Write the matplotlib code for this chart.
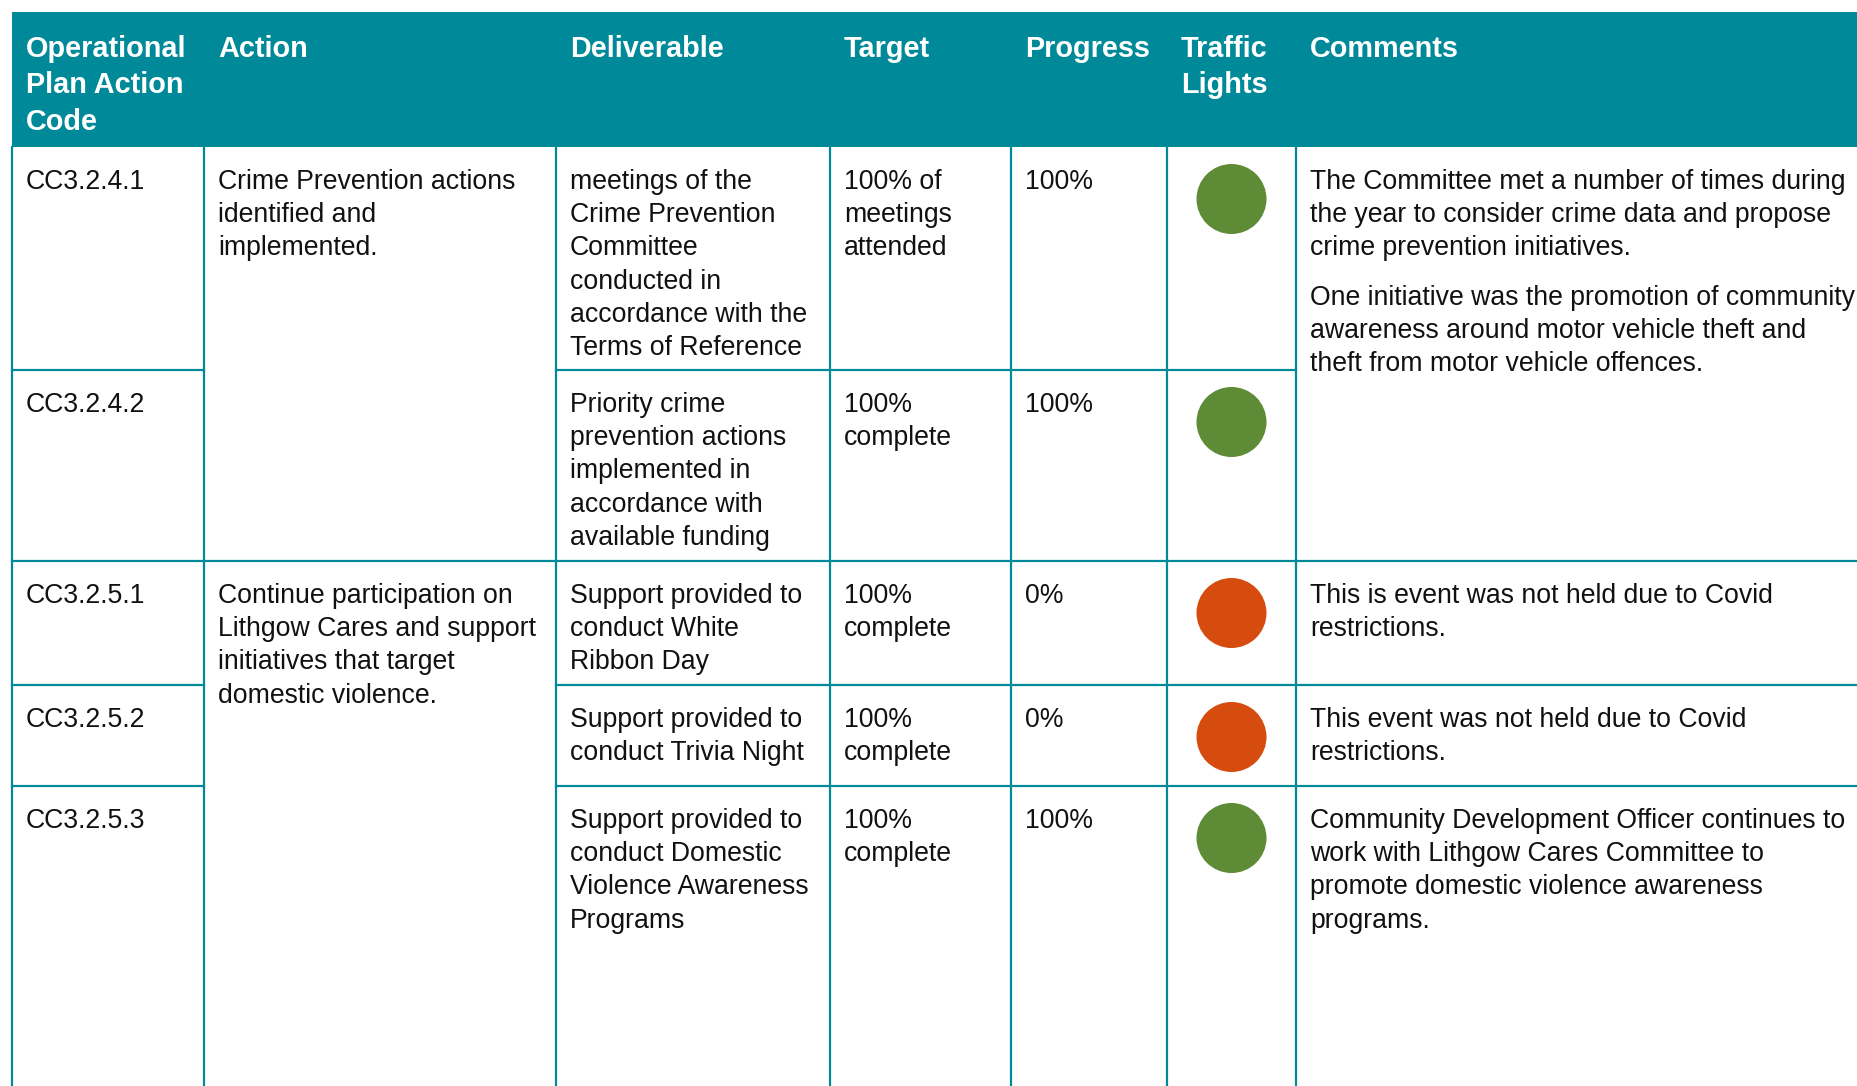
import matplotlib.pyplot as plt
from matplotlib.patches import Rectangle, Circle

plt.rcParams['font.family'] = ['Liberation Sans', 'DejaVu Sans']

# 表格内容
headers = ["Operational\nPlan Action\nCode", "Action", "Deliverable", "Target",
           "Progress", "Traffic\nLights", "Comments"]
codes = ["CC3.2.4.1", "CC3.2.4.2", "CC3.2.5.1", "CC3.2.5.2", "CC3.2.5.3"]
actions = {0: "Crime Prevention actions\nidentified and\nimplemented.",
           2: "Continue participation on\nLithgow Cares and support\ninitiatives that target\ndomestic violence."}
deliverables = ["meetings of the\nCrime Prevention\nCommittee\nconducted in\naccordance with the\nTerms of Reference",
                "Priority crime\nprevention actions\nimplemented in\naccordance with\navailable funding",
                "Support provided to\nconduct White\nRibbon Day",
                "Support provided to\nconduct Trivia Night",
                "Support provided to\nconduct Domestic\nViolence Awareness\nPrograms"]
targets = ["100% of\nmeetings\nattended", "100%\ncomplete", "100%\ncomplete",
           "100%\ncomplete", "100%\ncomplete"]
progress = ["100%", "100%", "0%", "0%", "100%"]
lights = ["green", "green", "red", "red", "green"]
comments = {0: "The Committee met a number of times during\nthe year to consider crime data and propose\ncrime prevention initiatives.\n\n"
               "One initiative was the promotion of community\nawareness around motor vehicle theft and\ntheft from motor vehicle offences.",
            2: "This is event was not held due to Covid\nrestrictions.",
            3: "This event was not held due to Covid\nrestrictions.",
            4: "Community Development Officer continues to\nwork with Lithgow Cares Committee to\npromote domestic violence awareness\nprograms."}

# 版式（像素）
W, H = 1858, 1086
col_x = [12, 204, 556, 830, 1011, 1167, 1296, 1870]
head_top, head_bot = 12, 147
row_y = [147, 370, 561, 685, 786, 1100]
TEAL = '#008a99'
LIGHT_COLORS = {"green": '#5e8b35', "red": '#d64c0f'}
PAD = 14
BODY_FS, HEAD_FS = 19.2, 20.8
BODY_LS, HEAD_LS = 33.2, 36.3

fig = plt.figure(figsize=(W / 100, H / 100), dpi=100)
ax = fig.add_axes([0, 0, 1, 1])
ax.set_xlim(0, W)
ax.set_ylim(H, 0)
ax.set_aspect('equal')
ax.axis('off')


def put_text(x, y0, text, fs=BODY_FS, ls=BODY_LS, **kw):
    y = y0
    for line in text.split('\n'):
        if line == '':
            y += 16
            continue
        ax.text(x, y, line, fontsize=fs, va='baseline', ha='left', **kw)
        y += ls


# 表头
ax.add_patch(Rectangle((col_x[0], head_top), W, head_bot - head_top, color=TEAL, lw=0))
for i, h in enumerate(headers):
    put_text(col_x[i] + PAD, head_top + 45, h, fs=HEAD_FS, ls=HEAD_LS,
             color='white', fontweight='bold')

# 竖线
for x in col_x[:-1]:
    ax.plot([x, x], [head_bot, H + 10], color=TEAL, lw=1.6)

# 横线（合并单元格不画）
for r in range(1, 5):
    y = row_y[r]
    ax.plot([col_x[0], col_x[1]], [y, y], color=TEAL, lw=1.6)
    merged_action = r not in actions
    ax.plot([col_x[1], col_x[2]] if not merged_action else [col_x[2], col_x[2]],
            [y, y], color=TEAL, lw=1.6)
    right = col_x[7] if r in comments else col_x[6]
    ax.plot([col_x[2], right], [y, y], color=TEAL, lw=1.6)

# 单元格内容
txt = '#111111'
for r in range(5):
    base = row_y[r] + 42
    put_text(col_x[0] + PAD, base, codes[r], color=txt)
    if r in actions:
        put_text(col_x[1] + PAD, base, actions[r], color=txt)
    put_text(col_x[2] + PAD, base, deliverables[r], color=txt)
    put_text(col_x[3] + PAD, base, targets[r], color=txt)
    put_text(col_x[4] + PAD, base, progress[r], color=txt)
    if r in comments:
        put_text(col_x[6] + PAD, base, comments[r], color=txt)
    cx = (col_x[5] + col_x[6]) / 2
    ax.add_patch(Circle((cx, row_y[r] + 52), 35, color=LIGHT_COLORS[lights[r]], lw=0))

fig.savefig('out.png', dpi=100)
